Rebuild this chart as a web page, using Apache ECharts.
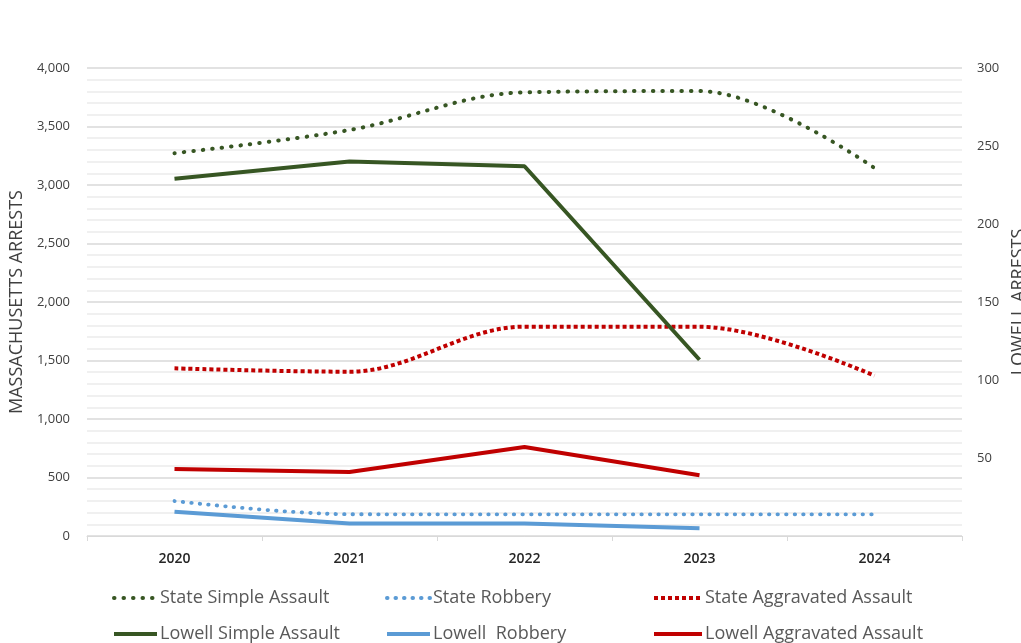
<!DOCTYPE html>
<html>
<head>
<meta charset="utf-8">
<script src="https://cdn.jsdelivr.net/npm/echarts@6/dist/echarts.min.js"></script>
<style>
  html, body { margin: 0; padding: 0; background: #fff; }
  #chart { width: 1021px; height: 643px; }
</style>
</head>
<body>
<div id="chart"></div>
<script>
// 年份
const years = ['2020', '2021', '2022', '2023', '2024'];
// 全州数据（左轴）
const stateSimpleAssault = [3272, 3470, 3792, 3803, 3145];
const stateRobbery = [299, 186, 185, 185, 185];
const stateAggravatedAssault = [1433, 1404, 1789, 1789, 1370];
// Lowell 数据（右轴）
const lowellSimpleAssault = [229, 240, 237, 113, null];
const lowellRobbery = [15.5, 8, 8, 5, null];
const lowellAggravatedAssault = [43, 41, 57, 39, null];

const GREEN = '#375623';
const BLUE = '#5B9BD5';
const RED = '#C00000';

const myChart = echarts.init(document.getElementById('chart'));

function lineSeries(name, data, color, axis, style) {
  return {
    name: name,
    type: 'line',
    yAxisIndex: axis,
    data: data,
    symbol: 'none',
    smooth: style.smooth || false,
    connectNulls: false,
    lineStyle: {
      color: color,
      width: style.width,
      type: style.type || 'solid',
      cap: style.cap || 'butt'
    },
    itemStyle: { color: color }
  };
}

const legendText = { fontSize: 18, color: '#595959', fontFamily: 'Open Sans', padding: [0, 0, 0, -2] };
// 图例：每列一个，竖排两行
function legendCol(names, left, width) {
  return {
    data: names.map(n => ({ name: n, lineStyle: { width: 4 } })),
    left: left, top: 589, orient: 'vertical', padding: 0,
    itemGap: 18, itemWidth: width, itemHeight: 16,
    itemStyle: { opacity: 0 },
    textStyle: legendText
  };
}

const options = {
  backgroundColor: '#fff',
  animation: false,
  grid: { left: 87, right: 59, top: 68, bottom: 107, containLabel: false, outerBoundsMode: 'none' },
  legend: [
    legendCol(['State Simple Assault', 'Lowell Simple Assault'], 112, 43),
    legendCol(['State Robbery', 'Lowell  Robbery'], 385, 43),
    legendCol(['State Aggravated Assault', 'Lowell Aggravated Assault'], 652, 48)
  ],
  xAxis: {
    type: 'category',
    data: years,
    boundaryGap: true,
    axisLine: { lineStyle: { color: '#d9d9d9', width: 1 } },
    axisTick: { show: true, length: 5, lineStyle: { color: '#d9d9d9' } },
    axisLabel: { margin: 16, fontSize: 14, color: '#262626', fontFamily: 'Open Sans', fontWeight: 600 }
  },
  yAxis: [
    {
      type: 'value',
      min: 0, max: 4000, interval: 500,
      name: 'MASSACHUSETTS ARRESTS',
      nameLocation: 'middle',
      nameGap: 61,
      nameRotate: 90,
      nameTextStyle: { fontSize: 18, color: '#404040', fontFamily: 'Open Sans' },
      axisLine: { show: false },
      axisTick: { show: false },
      axisLabel: {
        margin: 17, fontSize: 13, color: '#404040', fontFamily: 'Open Sans',
        formatter: v => v.toLocaleString('en-US')
      },
      splitLine: { show: true, lineStyle: { color: '#d9d9d9', width: 1.5 } },
      minorTick: { show: false, splitNumber: 5 },
      minorSplitLine: { show: true, lineStyle: { color: '#ebebeb', width: 1.5 } }
    },
    {
      type: 'value',
      min: 0, max: 300, interval: 50,
      name: 'LOWELL ARRESTS',
      nameLocation: 'middle',
      nameGap: 48,
      nameRotate: 90,
      nameTextStyle: { fontSize: 18, color: '#404040', fontFamily: 'Open Sans' },
      axisLine: { show: false },
      axisTick: { show: false },
      axisLabel: {
        margin: 15, fontSize: 13, color: '#404040', fontFamily: 'Open Sans',
        formatter: v => (v === 0 ? '' : String(v))
      },
      splitLine: { show: false }
    }
  ],
  series: [
    lineSeries('State Simple Assault', stateSimpleAssault, GREEN, 0, { width: 4, type: [0.5, 9], cap: 'round', smooth: 0.35 }),
    lineSeries('State Robbery', stateRobbery, BLUE, 0, { width: 3.8, type: [0.5, 8], cap: 'round', smooth: 0.35 }),
    lineSeries('State Aggravated Assault', stateAggravatedAssault, RED, 0, { width: 4, type: [4, 3], smooth: 0.35 }),
    lineSeries('Lowell Simple Assault', lowellSimpleAssault, GREEN, 1, { width: 4 }),
    lineSeries('Lowell  Robbery', lowellRobbery, BLUE, 1, { width: 4 }),
    lineSeries('Lowell Aggravated Assault', lowellAggravatedAssault, RED, 1, { width: 4 })
  ]
};
myChart.setOption(options);
</script>
</body>
</html>
